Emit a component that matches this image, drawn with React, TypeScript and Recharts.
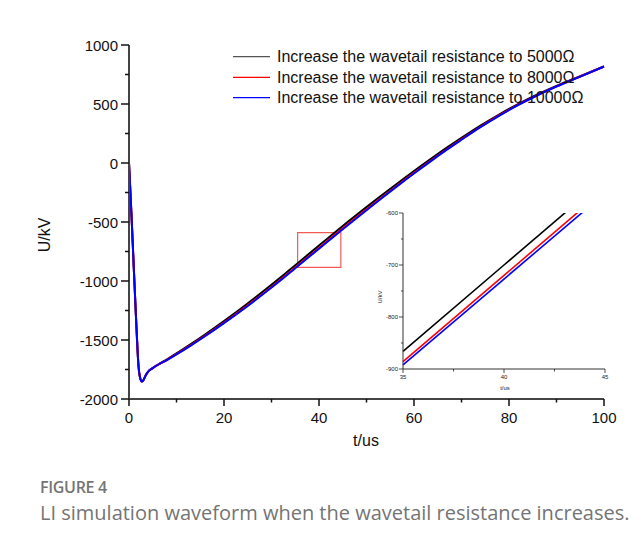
import { LineChart, Line, XAxis, YAxis, ReferenceArea } from 'recharts'

// time axis (us) and tail voltage (kV) for each wavetail resistance
const timeUs = [0, 0.5, 1, 1.5, 2, 2.4, 2.7, 3, 3.5, 4, 5, 6, 8, 10, 13, 16, 20, 24, 28, 32, 35, 40, 45, 50, 53, 56, 60, 64, 67, 70, 74, 78, 82, 86, 90, 95, 100]
const r5000 = [0, -420, -880, -1330, -1720, -1830, -1852, -1842, -1800, -1770, -1738, -1712, -1664, -1614, -1535, -1453, -1339, -1220, -1096, -967, -866, -700, -534, -374, -280, -188, -68, 48, 132, 213, 317, 413, 501, 581, 653, 735, 818]
const r8000 = [0, -420, -880, -1330, -1720, -1830, -1852, -1842, -1800, -1770, -1738, -1712, -1668, -1620, -1544, -1464, -1353, -1236, -1114, -986, -886, -720, -554, -393, -298, -205, -84, 34, 119, 201, 307, 405, 494, 576, 649, 733, 818]
const r10000 = [0, -420, -880, -1330, -1720, -1830, -1852, -1842, -1800, -1770, -1738, -1712, -1670, -1622, -1547, -1468, -1357, -1241, -1119, -992, -892, -727, -562, -400, -305, -211, -89, 29, 115, 197, 304, 402, 492, 574, 648, 732, 818]

const seriesNames = [
  'Increase the wavetail resistance to 5000Ω',
  'Increase the wavetail resistance to 8000Ω',
  'Increase the wavetail resistance to 10000Ω',
]
const seriesKeys = ['r5000', 'r8000', 'r10000']
const seriesColors = ['#000000', '#ff0000', '#0000ff']

const xTicks = [0, 10, 20, 30, 40, 50, 60, 70, 80, 90, 100]
const yTicks = [-2000, -1750, -1500, -1250, -1000, -750, -500, -250, 0, 250, 500, 750, 1000]

// zoomed window
const zoomX = [35, 45]
const zoomY = [-900, -600]
const zoomXTicks = [35, 37.5, 40, 42.5, 45]
const zoomYTicks = [-900, -850, -800, -750, -700, -650, -600]
const boxX = [35.5, 44.6]
const boxY = [-885, -590]

const rows = timeUs.map((t, i) => ({ t, r5000: r5000[i], r8000: r8000[i], r10000: r10000[i] }))
const zoomRows = rows.filter((r) => r.t >= zoomX[0] && r.t <= zoomX[1])

const FONT = '"Liberation Sans", Arial, sans-serif'
const legendY = [56.7, 77.3, 97.7]

function MainXTick({ x, y, payload }: any) {
  const major = payload.value % 20 === 0
  return (
    <g>
      <line x1={x} x2={x} y1={y} y2={y + (major ? 7 : 3.5)} stroke="#111" strokeWidth={1.5} />
      {major && (
        <text x={x} y={y + 18} textAnchor="middle" dominantBaseline="central" fontFamily={FONT} fontSize={15} fill="#111">
          {payload.value}
        </text>
      )}
    </g>
  )
}

function MainYTick({ x, y, payload }: any) {
  const major = payload.value % 500 === 0
  return (
    <g>
      <line x1={x} x2={x - (major ? 8 : 4)} y1={y} y2={y} stroke="#111" strokeWidth={1.5} />
      {major && (
        <text x={x - 11} y={y} textAnchor="end" dominantBaseline="central" fontFamily={FONT} fontSize={15} fill="#111">
          {payload.value}
        </text>
      )}
    </g>
  )
}

function ZoomXTick({ x, y, payload }: any) {
  const major = payload.value % 5 === 0
  return (
    <g>
      <line x1={x} x2={x} y1={y} y2={y + (major ? 4 : 2.5)} stroke="#222" strokeWidth={0.8} />
      {major && (
        <text x={x} y={y + 8} textAnchor="middle" dominantBaseline="central" fontFamily={FONT} fontSize={6} fill="#222">
          {payload.value}
        </text>
      )}
    </g>
  )
}

function ZoomYTick({ x, y, payload }: any) {
  const major = payload.value % 100 === 0
  return (
    <g>
      <line x1={x} x2={x - (major ? 4 : 2)} y1={y} y2={y} stroke="#222" strokeWidth={0.8} />
      {major && (
        <text x={x - 5} y={y} textAnchor="end" dominantBaseline="central" fontFamily={FONT} fontSize={6} fill="#222">
          {payload.value}
        </text>
      )}
    </g>
  )
}

export default function App() {
  return (
    <div style={{ position: 'relative', width: 643, height: 545, margin: '-8px 0 0 -8px', background: '#fff', overflow: 'hidden' }}>
      <div style={{ position: 'absolute', left: 6, top: 7, right: 0, bottom: 0, borderLeft: '1px solid #d8d8d8', borderTop: '1px solid #d8d8d8' }} />

      <div style={{ position: 'absolute', left: 0, top: 0 }}>
        <LineChart width={643} height={545} data={rows} margin={{ top: 45, right: 39, bottom: 116, left: 69 }}>
          <XAxis
            dataKey="t"
            type="number"
            domain={[0, 100]}
            ticks={xTicks}
            interval={0}
            height={30}
            tickSize={0}
            tickMargin={0}
            tickLine={false}
            tick={<MainXTick />}
            axisLine={{ stroke: '#444', strokeWidth: 2 }}
          />
          <YAxis
            type="number"
            domain={[-2000, 1000]}
            ticks={yTicks}
            interval={0}
            width={60}
            tickSize={0}
            tickMargin={0}
            tickLine={false}
            tick={<MainYTick />}
            axisLine={{ stroke: '#444', strokeWidth: 2 }}
          />
          <ReferenceArea x1={boxX[0]} x2={boxX[1]} y1={boxY[0]} y2={boxY[1]} fill="none" stroke="#f03c3c" strokeOpacity={0.85} strokeWidth={1.2} />
          {seriesKeys.map((k, i) => (
            <Line key={k} type="monotone" dataKey={k} stroke={seriesColors[i]} strokeWidth={2} dot={false} isAnimationActive={false} />
          ))}
        </LineChart>
      </div>

      <div style={{ position: 'absolute', left: 360, top: 195 }}>
        <LineChart width={260} height={210} data={zoomRows} margin={{ top: 18, right: 15, bottom: 21, left: 23 }}>
          <XAxis
            dataKey="t"
            type="number"
            domain={zoomX}
            ticks={zoomXTicks}
            interval={0}
            height={15}
            tickSize={0}
            tickMargin={0}
            tickLine={false}
            tick={<ZoomXTick />}
            axisLine={{ stroke: '#333', strokeWidth: 1 }}
          />
          <YAxis
            type="number"
            domain={zoomY}
            allowDataOverflow
            ticks={zoomYTicks}
            interval={0}
            width={20}
            tickSize={0}
            tickMargin={0}
            tickLine={false}
            tick={<ZoomYTick />}
            axisLine={{ stroke: '#333', strokeWidth: 1 }}
          />
          {seriesKeys.map((k, i) => (
            <Line key={k} type="linear" dataKey={k} stroke={seriesColors[i]} strokeWidth={1.6} dot={false} isAnimationActive={false} />
          ))}
        </LineChart>
      </div>

      {/* axis titles */}
      <div style={{ position: 'absolute', left: 45, top: 235, transform: 'translate(-50%, -50%) rotate(-90deg)', fontFamily: FONT, fontSize: 16, color: '#111', whiteSpace: 'nowrap' }}>U/kV</div>
      <div style={{ position: 'absolute', left: 366, top: 441, transform: 'translate(-50%, -50%)', fontFamily: FONT, fontSize: 16, color: '#111', whiteSpace: 'nowrap' }}>t/us</div>
      <div style={{ position: 'absolute', left: 380, top: 297, transform: 'translate(-50%, -50%) rotate(-90deg)', fontFamily: FONT, fontSize: 6, color: '#222', whiteSpace: 'nowrap' }}>U/kV</div>
      <div style={{ position: 'absolute', left: 505, top: 388, transform: 'translate(-50%, -50%)', fontFamily: FONT, fontSize: 6, color: '#222', whiteSpace: 'nowrap' }}>t/us</div>

      {/* legend */}
      <svg style={{ position: 'absolute', left: 0, top: 0 }} width={643} height={130}>
        {seriesNames.map((name, i) => (
          <g key={name}>
            <line x1={233} x2={270} y1={legendY[i]} y2={legendY[i]} stroke={i === 0 ? '#555' : seriesColors[i]} strokeWidth={1.2} />
            <text x={277} y={legendY[i]} dominantBaseline="central" fontFamily={FONT} fontSize={16} fill="#111">
              {name}
            </text>
          </g>
        ))}
      </svg>

      {/* caption */}
      <div style={{ position: 'absolute', left: 40, top: 477, fontFamily: '"Open Sans", sans-serif', fontSize: 16, fontWeight: 600, color: '#747474', lineHeight: '20px', letterSpacing: -0.3 }}>FIGURE 4</div>
      <div style={{ position: 'absolute', left: 40, top: 501, fontFamily: '"Open Sans", sans-serif', fontSize: 20, color: '#747474', lineHeight: '24px', whiteSpace: 'nowrap' }}>
        LI simulation waveform when the wavetail resistance increases.
      </div>
    </div>
  )
}
